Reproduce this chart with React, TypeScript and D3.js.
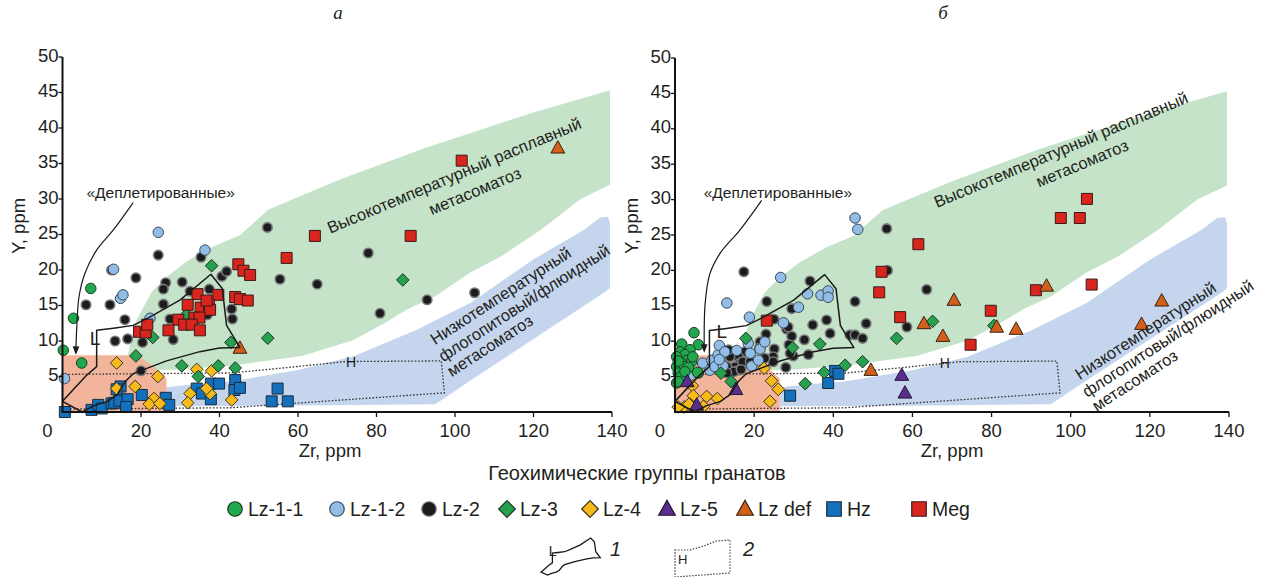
import React from 'react';
import * as d3 from 'd3';

type P = [number, number];

// ---------- tick labels ----------
const X_TICKS = [0, 20, 40, 60, 80, 100, 120, 140];
const Y_TICKS = [5, 10, 15, 20, 25, 30, 35, 40, 45, 50];

// ---------- panel а (left) data: [Zr, Y] ----------
const A_LZ11: P[] = [[0.2, 8.7], [2.8, 13.2], [7.2, 17.4], [4.9, 6.9]];
const A_LZ12: P[] = [[24.4, 25.3], [36.3, 22.8], [13, 20.1], [14.8, 16], [15.4, 16.5], [22.3, 13.2], [0.5, 4.7]];
const A_LZ2: P[] = [[52.2, 26], [24.4, 22.1], [12.5, 20], [18.7, 18.9], [6, 15.1], [12.1, 15.1], [15.9, 13], [13.4, 10], [16.6, 10.3], [20.4, 9.8], [20, 5.8], [26.3, 18.2], [25.7, 17.3], [25.7, 15.2], [30.5, 18.3], [32.5, 17], [27.4, 13.1], [28.2, 10.2], [35.3, 21.8], [37.4, 17.3], [40.6, 19.1], [41.8, 19.8], [36.9, 13.7], [43.1, 14.5], [43.3, 13.1], [36.3, 2.6], [55.4, 18.7], [64.9, 18], [77.9, 22.4], [92.9, 15.8], [80.9, 13.9], [105, 16.8]];
const A_LZ3: P[] = [[38, 20.6], [31.6, 13.7], [23, 10.5], [18.7, 7.9], [30.4, 6.5], [34.6, 5], [39.7, 6.5], [44, 6.2], [42.9, 9.8], [52.3, 10.4], [86.7, 18.6]];
const A_LZ4: P[] = [[13.8, 6.9], [24.3, 5], [13.8, 3.3], [18.5, 3.6], [23.3, 1.9], [22.1, 1.1], [24.8, 1.2], [32.5, 2.6], [31.9, 1.3], [34.2, 6], [37.6, 2.6], [38, 5.8], [43.1, 1.7], [36.7, 3.3]];
const A_LZ5: P[] = [];
const A_LZDEF: P[] = [[126.2, 37.2], [45.2, 9]];
const A_HZ: P[] = [[0.6, 0], [7.4, 0.3], [9.1, 1], [10, 0.5], [12.5, 1.2], [13.2, 1.3], [14.5, 1.6], [16.6, 1.8], [16.2, 0.7], [14.8, 3.6], [13.8, 3.2], [20.2, 2.4], [26.3, 2], [27.2, 1], [34.2, 3.3], [35.5, 2.6], [37.8, 4], [39.9, 4], [37.8, 1.8], [44, 4.5], [43.8, 3.1], [45.2, 3.4], [54.8, 3.3], [53.3, 1.5], [57.4, 1.5]];
const A_MEG: P[] = [[101.7, 35.4], [64.3, 24.8], [88.7, 24.8], [57.1, 21.7], [44.8, 20.8], [46.1, 19.9], [47.8, 19.3], [44, 16.2], [45.2, 15.9], [47.2, 15.7], [34.4, 16.6], [39.7, 16.5], [31.9, 15.1], [35.2, 14.7], [37.3, 15.1], [37.6, 14.4], [33.6, 13.3], [34.9, 13.3], [29.5, 13], [31, 12.3], [32.9, 12.3], [35, 11.5], [27, 11.5], [36.7, 15.7], [19.5, 11.3], [21.2, 11.2], [21.6, 12.3]];

// ---------- panel б (right) data ----------
const B_LZ11: P[] = [[4.8, 11.2], [5.9, 9.5], [1.7, 9.6], [1.3, 8.5], [3.8, 8.8], [2.5, 8.1], [0.4, 7.8], [3, 7.3], [1.7, 6.9], [4.2, 7.1], [0.4, 6.4], [2.3, 6.4], [3.4, 6.3], [0.8, 5.5], [1.5, 5], [0.4, 4.1], [5.9, 5.5], [4.5, 7.8], [0.8, 7.2], [2.5, 5.7], [0.8, 4.3], [5.7, 5.6]];
const B_LZ12: P[] = [[1.5, 5.9], [3.8, 5], [7, 6.9], [8.8, 5.9], [9.3, 7.3], [10.9, 8.1], [11.2, 9.4], [12.6, 8.5], [10.1, 6.4], [12.2, 6.5], [15.6, 8.7], [18.8, 13.4], [13.1, 15.4], [19.4, 6.5], [21.1, 7.3], [21.5, 8.9], [22.7, 9.9], [27.4, 12.6], [26.7, 19], [31.2, 14.8], [33.5, 16.7], [36.9, 16.5], [38.7, 17.1], [38.7, 16.2], [11.2, 7.4], [18.5, 9.7], [19, 8.3], [45.5, 27.4], [46.2, 25.8]];
const B_LZ2: P[] = [[17.4, 19.8], [34.1, 18.5], [23.2, 15.6], [29.5, 14.6], [25, 13.1], [28.2, 11.7], [29.5, 10.7], [34.8, 12.3], [38.3, 13], [39.2, 11.1], [23, 11], [25.1, 8.9], [28.8, 9.5], [29.9, 7.9], [24.8, 7.8], [24.8, 7.1], [22.7, 7.6], [28, 6.3], [33.7, 8.1], [45.5, 15.6], [44.2, 10.9], [45.5, 10.9], [17.7, 8.5], [16, 7.8], [13.9, 7.8], [16.4, 6.9], [15.2, 6.4], [16, 5.9], [13.1, 6.4], [11.4, 7.3], [8.8, 6.6], [14.9, 5.7], [13.5, 8.8], [17.1, 7.1], [16.7, 6], [19, 7.1], [21.5, 9.9], [21.3, 9], [13.1, 5.5], [28.6, 12], [32.7, 10.2], [29.1, 8.3], [47.4, 10.4], [48.3, 12.5], [53.5, 25.9], [53.7, 20], [63.6, 17.3], [58.6, 12]];
const B_LZ3: P[] = [[17.9, 10.4], [29.7, 9.1], [36.6, 9.6], [11.6, 5.5], [14.2, 4.3], [32.9, 4], [37.7, 5.6], [43, 6.6], [47.4, 7.1], [56, 10.4], [65.1, 12.8], [80.6, 12.2]];
const B_LZ4: P[] = [[4.4, 3.7], [4.6, 2.3], [8, 2.2], [10.7, 1.9], [7.2, 0.8], [5.3, 0.8], [4, 1], [2.3, 0.7], [0.8, 0.7], [22.5, 6.2], [24.4, 4.4], [26.1, 3.2], [24, 1.5], [3.5, 1.1]];
const B_LZ5: P[] = [[3.1, 4.3], [15.4, 3.2], [5.5, 1], [57.3, 5.2], [58.1, 2.7]];
const B_LZDEF: P[] = [[49.5, 5.9], [62.9, 12.5], [67.7, 10.7], [70.5, 15.8], [81.3, 12], [86.2, 11.7], [93.9, 17.8], [117.9, 12.4], [123, 15.7]];
const B_HZ: P[] = [[29.1, 2.3], [38.7, 4.1], [40.4, 5.8], [41.3, 5.4]];
const B_MEG: P[] = [[23.2, 12.9], [61.5, 23.7], [52.2, 19.8], [51.6, 16.9], [56.9, 13.4], [79.8, 14.3], [74.7, 9.5], [91.2, 17.2], [105.3, 18], [97.5, 27.4], [102.3, 27.4], [104.1, 30.1]];

// ---------- field outlines (Zr, Y) ----------
const GREEN_FIELD: P[] = [[16.7, 8], [17.4, 10.1], [18.9, 13], [22.7, 16.9], [26.5, 19], [31.6, 21.2], [38.4, 23.3], [45.2, 24.9], [52.4, 28.5], [70, 32.6], [92, 37.1], [104, 39.3], [120, 42.2], [139.5, 45.3], [139.5, 32], [132, 30], [122, 25.7], [112, 22], [104, 19.7], [95, 16.3], [88, 14.5], [82, 12.5], [74, 10.1], [61, 7.9], [44, 6.6], [30, 6], [19, 5.8]];
const BLUE_FIELD: P[] = [[26.5, 0.8], [26.5, 3.5], [35, 4], [43, 4.3], [60, 5.9], [74, 7.8], [90, 11.5], [104, 15.4], [120, 21.5], [133, 25.7], [137, 27.4], [139, 27.5], [139.5, 26.5], [139.5, 17.5], [138.5, 17], [103, 4.1], [95, 1.1], [60, 0.9]];
const PINK_FIELD: P[] = [[0, 0], [0, 8], [19, 8], [23, 6.5], [26.5, 4.7], [26.5, 0]];
const H_FIELD: P[] = [[0, 0.4], [0, 5.3], [43, 5.5], [58, 6.3], [72, 7.1], [96.5, 7.2], [97.3, 2.7], [43, 0.6], [0, 0.4]];
const L_FIELD: P[] = [[0, 1.5], [3, 3.3], [6, 5.1], [8.7, 6.4], [8.7, 11.5], [13, 11.8], [18, 12.2], [22, 13.3], [30, 15.8], [37.8, 19.4], [40.7, 17.4], [41.8, 12.2], [45.2, 9.1], [40, 9], [35, 8.5], [26.5, 7.2], [18, 5.4], [16, 4.3], [14, 2.5], [11.5, 1.5], [8, 0.9], [5, 0]];
const A_ARROW: P[] = [[18, 29.5], [12.9, 25.6], [8.7, 22.8], [5.7, 19.5], [4.2, 16.2], [3.6, 11.5], [3.4, 8.3]];
const B_ARROW: P[] = [[21.9, 29.9], [16.4, 25.7], [11.5, 22.5], [8.8, 19.5], [7.6, 15.2], [7.4, 8.6]];

const LEGEND_NAMES = ['Lz-1-1', 'Lz-1-2', 'Lz-2', 'Lz-3', 'Lz-4', 'Lz-5', 'Lz def', 'Hz', 'Meg'];

type Kind = 'circle' | 'square' | 'diamond' | 'triangle';
interface Series { name: string; kind: Kind; fill: string; stroke: string; a: P[]; b: P[] }

const SERIES: Series[] = [
  { name: 'Lz-2', kind: 'circle', fill: '#1c1c1e', stroke: '#7a7a7a', a: A_LZ2, b: B_LZ2 },
  { name: 'Lz-1-2', kind: 'circle', fill: '#91bde6', stroke: '#3a4a5a', a: A_LZ12, b: B_LZ12 },
  { name: 'Lz-1-1', kind: 'circle', fill: '#1fa84d', stroke: '#1c3a22', a: A_LZ11, b: B_LZ11 },
  { name: 'Hz', kind: 'square', fill: '#1270bd', stroke: '#1b2b3b', a: A_HZ, b: B_HZ },
  { name: 'Lz-4', kind: 'diamond', fill: '#f6bb1a', stroke: '#3a3320', a: A_LZ4, b: B_LZ4 },
  { name: 'Lz-3', kind: 'diamond', fill: '#27a04f', stroke: '#1c3322', a: A_LZ3, b: B_LZ3 },
  { name: 'Meg', kind: 'square', fill: '#d8261e', stroke: '#3a1a18', a: A_MEG, b: B_MEG },
  { name: 'Lz-5', kind: 'triangle', fill: '#5a2d8e', stroke: '#221533', a: A_LZ5, b: B_LZ5 },
  { name: 'Lz def', kind: 'triangle', fill: '#d2601c', stroke: '#3a2210', a: A_LZDEF, b: B_LZDEF },
];

const FONT = "'Liberation Sans', Arial, Helvetica, sans-serif";
const TXT = '#231f20';

function shapePath(kind: Kind, s: number): string {
  const h = s / 2;
  if (kind === 'circle') return `M${-h},0A${h},${h} 0 1,0 ${h},0A${h},${h} 0 1,0 ${-h},0Z`;
  if (kind === 'square') return `M${-h},${-h}H${h}V${h}H${-h}Z`;
  if (kind === 'diamond') { const d = h * 1.15; return `M0,${-d}L${d},0L0,${d}L${-d},0Z`; }
  const t = h * 1.15;
  return `M0,${-t * 1.05}L${t},${t * 0.75}L${-t},${t * 0.75}Z`;
}

function sizeOf(s: Series): number {
  if (s.kind === 'circle') return s.name === 'Lz-2' ? 9.5 : 10.5;
  if (s.kind === 'square') return 11;
  if (s.kind === 'diamond') return 11;
  return 12;
}

interface PanelCfg {
  key: 'a' | 'b';
  xr: [number, number];
  yr: [number, number];
  title: string;
  titleX: number;
  arrow: P[];
  deplText: P;
  lLabel: P;
  hLabel: P;
  hot1: P; hot2: P;
  low1: P; low2: P; low3: P;
  zrLabelX: number;
  yLabelX: number;
}

const PANELS: PanelCfg[] = [
  {
    key: 'a', xr: [62.5, 612], yr: [412, 57], title: 'а', titleX: 338, arrow: A_ARROW,
    deplText: [25, 30.2], lLabel: [8.3, 10.4], hLabel: [73.5, 7],
    hot1: [68.2, 25.1], hot2: [94.1, 27.7],
    low1: [94.9, 9.4], low2: [97, 7], low3: [99.2, 4.9],
    zrLabelX: 330, yLabelX: 25,
  },
  {
    key: 'b', xr: [675, 1229], yr: [412, 58], title: 'б', titleX: 943, arrow: B_ARROW,
    deplText: [26, 30.2], lLabel: [11.8, 11.4], hLabel: [68.2, 6.9],
    hot1: [66.2, 28.8], hot2: [92, 31.7],
    low1: [102.3, 4.5], low2: [104.1, 2], low3: [106.6, 0],
    zrLabelX: 952, yLabelX: 638,
  },
];

function Panel({ cfg }: { cfg: PanelCfg }) {
  const x = d3.scaleLinear().domain([0, 140]).range(cfg.xr);
  const y = d3.scaleLinear().domain([0, 50]).range(cfg.yr);
  const line = d3.line<P>().x(d => x(d[0])).y(d => y(d[1]));
  const closed = (pts: P[]) => (line(pts) || '') + 'Z';
  const smooth = d3.line<P>().x(d => x(d[0])).y(d => y(d[1])).curve(d3.curveCatmullRom.alpha(0.5));
  const x0 = x(0), y0 = y(0);
  const rot = (p: P, a: number) => `translate(${x(p[0])},${y(p[1])}) rotate(${a})`;
  return (
    <g>
      <path d={closed(BLUE_FIELD)} fill="#c4d5ed" />
      <path d={closed(GREEN_FIELD)} fill="#c5e3c9" />
      <path d={closed(PINK_FIELD)} fill="#f2b59c" />
      <path d={line(H_FIELD) || ''} fill="none" stroke="#333" strokeWidth={1.3} strokeDasharray="1.6,1.8" />
      {SERIES.map(s => {
        const pts = cfg.key === 'a' ? s.a : s.b;
        const d = shapePath(s.kind, sizeOf(s));
        return (
          <g key={s.name}>
            {pts.map((p, i) => (
              <path key={i} d={d} transform={`translate(${x(p[0])},${y(p[1])})`} fill={s.fill} stroke={s.stroke} strokeWidth={s.name === 'Lz-2' ? 1.6 : 1} />
            ))}
          </g>
        );
      })}
      <path d={closed(L_FIELD)} fill="none" stroke="#1a1a1a" strokeWidth={1.5} strokeLinejoin="round" />
      <text x={x(cfg.lLabel[0])} y={y(cfg.lLabel[1]) + 7} fontFamily={FONT} fontSize={19} fill={TXT} textAnchor="middle">L</text>
      <text x={x(cfg.hLabel[0])} y={y(cfg.hLabel[1]) + 5} fontFamily={FONT} fontSize={14} fill={TXT} textAnchor="middle">H</text>
      <path d={smooth(cfg.arrow) || ''} fill="none" stroke="#1a1a1a" strokeWidth={1.2} markerEnd="url(#arrowHead)" />
      <text x={x(cfg.deplText[0])} y={y(cfg.deplText[1])} fontFamily={FONT} fontSize={15.5} fill={TXT} textAnchor="middle">«Деплетированные»</text>
      <text transform={rot(cfg.hot1, -22.8)} fontFamily={FONT} fontSize={16.5} fill={TXT}>Высокотемпературный расплавный</text>
      <text transform={rot(cfg.hot2, -22.8)} fontFamily={FONT} fontSize={16.5} fill={TXT}>метасоматоз</text>
      <text transform={rot(cfg.low1, -33)} fontFamily={FONT} fontSize={16.5} fill={TXT}>Низкотемпературный</text>
      <text transform={rot(cfg.low2, -33)} fontFamily={FONT} fontSize={16.5} fill={TXT}>флогопитовый/флюидный</text>
      <text transform={rot(cfg.low3, -33)} fontFamily={FONT} fontSize={16.5} fill={TXT}>метасоматоз</text>
      <line x1={x0} x2={x(140)} y1={y0} y2={y0} stroke="#111" strokeWidth={2} />
      <line x1={x0} x2={x0} y1={y0 + 1} y2={y(50)} stroke="#111" strokeWidth={2} />
      {Y_TICKS.map(t => (
        <g key={t}>
          <line x1={x0 - 4} x2={x0} y1={y(t)} y2={y(t)} stroke="#111" strokeWidth={1.3} />
          <text x={x0 - 4} y={y(t) + 4.5} fontFamily={FONT} fontSize={18.5} fill={TXT} textAnchor="end">{t}</text>
        </g>
      ))}
      {X_TICKS.map(t => (
        <g key={t}>
          {t > 0 && <line x1={x(t)} x2={x(t)} y1={y0} y2={y0 + 5} stroke="#111" strokeWidth={1.3} />}
          <text x={t === 0 ? x0 - 15 : x(t)} y={y0 + 25} fontFamily={FONT} fontSize={18.5} fill={TXT} textAnchor="middle">{t}</text>
        </g>
      ))}
      <text x={cfg.zrLabelX} y={y0 + 45} fontFamily={FONT} fontSize={18.5} fill={TXT} textAnchor="middle">Zr, ppm</text>
      <text transform={`translate(${cfg.yLabelX},226) rotate(-90)`} fontFamily={FONT} fontSize={18.5} fill={TXT} textAnchor="middle">Y, ppm</text>
      <text x={cfg.titleX} y={19} fontFamily="'Liberation Serif', 'DejaVu Serif', serif" fontStyle="italic" fontSize={19} fill={TXT} textAnchor="middle">{cfg.title}</text>
    </g>
  );
}

const LEGEND_X = [235, 337, 429, 507, 590, 667, 745, 834, 919];

export default function App() {
  const byName = new Map(SERIES.map(s => [s.name, s]));
  // small-scale copy of the L outline for the bottom key
  const kx = d3.scaleLinear().domain([0, 45]).range([541, 600]);
  const ky = d3.scaleLinear().domain([0, 19.4]).range([575, 538]);
  const keyLine = d3.line<P>().x(d => kx(d[0])).y(d => ky(d[1]));
  return (
    <svg width={1268} height={577} style={{ position: 'absolute', left: 0, top: 0, background: '#fff' }}>
      <defs>
        <marker id="arrowHead" viewBox="0 0 10 10" refX="8" refY="5" markerWidth="7" markerHeight="7" orient="auto">
          <path d="M0,1L10,5L0,9Z" fill="#1a1a1a" />
        </marker>
      </defs>
      <rect width={1268} height={577} fill="#fff" />
      {PANELS.map(p => <Panel key={p.key} cfg={p} />)}
      <text x={637} y={480} fontFamily={FONT} fontSize={20} fill={TXT} textAnchor="middle">Геохимические группы гранатов</text>
      {LEGEND_NAMES.map((n, i) => {
        const s = byName.get(n)!;
        const cx = LEGEND_X[i];
        return (
          <g key={n}>
            <path d={shapePath(s.kind, 14.5)} transform={`translate(${cx},${509})`} fill={s.fill} stroke={s.stroke} strokeWidth={1.2} />
            <text x={cx + 13} y={516} fontFamily={FONT} fontSize={19.5} fill={TXT}>{n}</text>
          </g>
        );
      })}
      <path d={(keyLine(L_FIELD) || '') + 'Z'} fill="none" stroke="#1a1a1a" strokeWidth={1.3} />
      <text x={kx(6)} y={ky(10)} fontFamily={FONT} fontSize={14} fill={TXT}>L</text>
      <text x={610} y={556} fontFamily={FONT} fontStyle="italic" fontSize={20} fill={TXT}>1</text>
      <path d="M675,550 L690,550 L704,546 L716,541 L730,540 L730,573 L675,577 Z" fill="none" stroke="#333" strokeWidth={1.2} strokeDasharray="1.4,1.6" />
      <text x={678} y={564} fontFamily={FONT} fontSize={13} fill={TXT}>H</text>
      <text x={743} y={556} fontFamily={FONT} fontStyle="italic" fontSize={20} fill={TXT}>2</text>
    </svg>
  );
}
